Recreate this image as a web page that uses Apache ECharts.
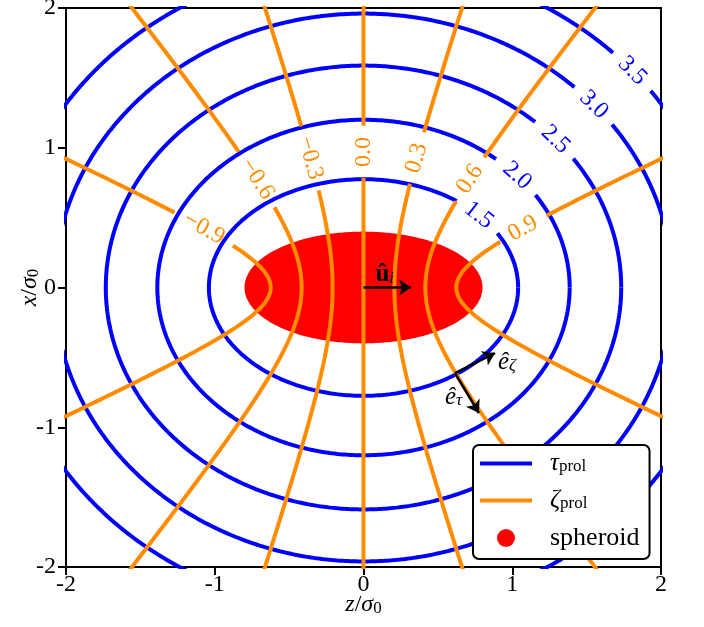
<!DOCTYPE html>
<html><head><meta charset="utf-8">
<script src="https://cdn.jsdelivr.net/npm/echarts@6/dist/echarts.min.js"></script>
<style>html,body{margin:0;padding:0;background:#fff}#c{width:704px;height:627px}</style>
</head><body><div id="c"></div>
<script>
// ---------------- data ----------------
const xTicks = [-2, -1, 0, 1, 2];
const yTicks = [-2, -1, 0, 1, 2];
const tauLevels = [1.5, 2.0, 2.5, 3.0, 3.5];
const zetaLevels = [-0.9, -0.6, -0.3, 0.0, 0.3, 0.6, 0.9];
const focalLength = 0.693;              // prolate focal distance (sigma0 units)
const spheroidSemiAxes = [0.8, 0.4];    // [along z, along x]
const tauLabelZeta = 0.745;             // zeta at which the tau labels sit
const zetaLabelTau = 1.72;              // tau at which the zeta labels sit
const arrowU = [[0, 0], [0.32, 0]];
const arrowEZeta = [[0.615, -0.612], [0.884, -0.469]];
const arrowETau = [[0.615, -0.612], [0.776, -0.898]];
const legendNames = ['tau', 'zeta', 'spheroid'];

// ---------------- setup ----------------
const FONT = '"Liberation Serif", "Times New Roman", serif';
const BLUE = '#0000ff', ORANGE = '#ff8c00', RED = '#ff0000';
const chart = echarts.init(document.getElementById('c'), null, {renderer: 'canvas'});

const nameRich = {
  i: {fontStyle: 'italic', fontSize: 24, lineHeight: 24, fontFamily: FONT, color: '#000'},
  n: {fontSize: 24, lineHeight: 24, fontFamily: FONT, color: '#000'},
  s: {fontSize: 17, lineHeight: 10, verticalAlign: 'bottom', fontFamily: FONT, color: '#000'}
};
const axisCommon = {
  type: 'value', interval: 1,
  splitLine: {show: false},
  axisLine: {show: true, onZero: false, lineStyle: {color: '#000', width: 2}},
  axisTick: {show: true, inside: false, length: 8, lineStyle: {color: '#000', width: 2}},
  nameLocation: 'middle', nameMoveOverlap: false,
  nameTextStyle: {fontFamily: FONT, fontSize: 24, color: '#000', rich: nameRich}
};
const LINE_ICON = 'path://M0,0L52,0L52,4L0,4Z';

chart.setOption({
  animation: false,
  backgroundColor: '#fff',
  grid: {left: 66, right: 43, top: 8, bottom: 60, containLabel: false, outerBoundsMode: 'none',
    show: true, borderColor: '#000', borderWidth: 2, backgroundColor: 'transparent'},
  xAxis: Object.assign({}, axisCommon, {
    min: xTicks[0], max: xTicks[xTicks.length - 1],
    name: '{i|z}{n|/}{i|σ}{s|0}', nameGap: 26,
    axisLabel: {fontFamily: FONT, fontSize: 24, color: '#000', margin: 6}
  }),
  yAxis: Object.assign({}, axisCommon, {
    min: yTicks[0], max: yTicks[yTicks.length - 1],
    name: '{i|x}{n|/}{i|σ}{s|0}', nameGap: 24,
    axisLabel: {fontFamily: FONT, fontSize: 24, color: '#000', margin: 10}
  }),
  legend: {
    show: true, selectedMode: false, orient: 'vertical', left: 473, top: 445,
    backgroundColor: '#fff', borderColor: '#000', borderWidth: 2, borderRadius: 6,
    padding: [6, 10, 8, 7], itemWidth: 52, itemHeight: 18, itemGap: 12, z: 20,
    data: [{name: legendNames[0], icon: LINE_ICON}, {name: legendNames[1], icon: LINE_ICON}, {name: legendNames[2], icon: 'circle'}],
    formatter: function (n) {
      return {tau: '{g| }{m|τ}{s|prol}', zeta: '{g| }{m|ζ}{s|prol}', spheroid: '{g| }{t|spheroid}'}[n];
    },
    textStyle: {color: '#000', fontFamily: FONT, fontSize: 25, rich: {
      g: {width: 13, fontSize: 25, lineHeight: 24},
      m: {fontStyle: 'italic', fontSize: 25, lineHeight: 24, fontFamily: FONT, color: '#000'},
      s: {fontSize: 17, lineHeight: 10, verticalAlign: 'bottom', fontFamily: FONT, color: '#000'},
      t: {fontSize: 26, lineHeight: 24, fontFamily: FONT, color: '#000'}
    }}
  },
  series: []
});

const toPx = p => chart.convertToPixel({gridIndex: 0}, p);
const a = focalLength;
const mctx = document.createElement('canvas').getContext('2d');
mctx.font = '24px ' + FONT;

function tauPoint(tau, th) { return [a * tau * Math.cos(th), a * Math.sqrt(tau * tau - 1) * Math.sin(th)]; }
function zetaPoint(zeta, u) { return [a * zeta * Math.cosh(u), a * Math.sqrt(1 - zeta * zeta) * Math.sinh(u)]; }

function angleAt(f, t) {
  const p1 = toPx(f(t - 1e-3)), p2 = toPx(f(t + 1e-3));
  let ang = Math.atan2(-(p2[1] - p1[1]), p2[0] - p1[0]);
  if (ang > Math.PI / 2 + 1e-9) ang -= Math.PI;
  if (ang <= -Math.PI / 2 + 1e-9) ang += Math.PI;
  return ang;
}

function segmentsWithGap(points, center, r) {
  const segs = []; let cur = [];
  for (const p of points) {
    const q = toPx(p);
    if (Math.hypot(q[0] - center[0], q[1] - center[1]) < r) {
      if (cur.length > 1) segs.push(cur);
      cur = [];
    } else cur.push(p);
  }
  if (cur.length > 1) segs.push(cur);
  return segs;
}

const series = [];
const graphics = [];

function lineSeries(name, data, color, z) {
  return {type: 'line', name: name, data: data, symbol: 'none', showSymbol: false, smooth: false,
    lineStyle: {color: color, width: 4}, itemStyle: {color: color}, z: z, silent: true, clip: true};
}

function addLabel(text, f, t, color) {
  const c = toPx(f(t));
  const ang = angleAt(f, t);
  const w = mctx.measureText(text).width;
  graphics.push({type: 'text', x: c[0], y: c[1], rotation: ang, z: 50, silent: true,
    style: {text: text, fill: color, fontSize: 24, fontFamily: FONT, align: 'center', verticalAlign: 'middle'}});
  return {c: c, r: w / 2 + 11};
}

// spheroid
const N = 360;
const spheroidPts = [];
for (let i = 0; i <= N; i++) {
  const th = 2 * Math.PI * i / N;
  spheroidPts.push([spheroidSemiAxes[0] * Math.cos(th), spheroidSemiAxes[1] * Math.sin(th)]);
}
series.push({type: 'custom', name: legendNames[2], coordinateSystem: 'cartesian2d', data: [[0, 0]], z: 1, silent: true,
  itemStyle: {color: RED},
  renderItem: function (params, api) {
    return {type: 'polygon', shape: {points: spheroidPts.map(p => api.coord(p))}, style: {fill: RED}};
  }
});

// tau ellipses
tauLevels.forEach(function (tau) {
  const f = th => tauPoint(tau, th);
  const pts = [];
  for (let i = 0; i <= 1440; i++) pts.push(f(2 * Math.PI * i / 1440));
  const lab = addLabel(tau.toFixed(1), f, Math.acos(tauLabelZeta), BLUE);
  segmentsWithGap(pts, lab.c, lab.r).forEach(s => series.push(lineSeries(legendNames[0], s, BLUE, 3)));
});

// zeta hyperbolae
zetaLevels.forEach(function (zeta) {
  const f = u => zetaPoint(zeta, u);
  const pts = [];
  for (let i = 0; i <= 1200; i++) pts.push(f(-3.2 + 6.4 * i / 1200));
  const txt = (zeta < 0 ? '\u2212' : '') + Math.abs(zeta).toFixed(1);
  const lab = addLabel(txt, f, Math.acosh(zetaLabelTau), ORANGE);
  segmentsWithGap(pts, lab.c, lab.r).forEach(s => series.push(lineSeries(legendNames[1], s, ORANGE, 4)));
});

// unit vector arrows
series.push({type: 'lines', coordinateSystem: 'cartesian2d', z: 6, silent: true,
  symbol: ['none', 'arrow'], symbolSize: [0, 12],
  lineStyle: {color: '#000', width: 2.5, opacity: 1, curveness: 0},
  data: [{coords: arrowU}, {coords: arrowEZeta}, {coords: arrowETau}]
});

// arrow annotations
const annRich = {
  b: {fontWeight: 'bold', fontSize: 25, lineHeight: 24, fontFamily: FONT, color: '#000'},
  e: {fontStyle: 'italic', fontSize: 25, lineHeight: 24, fontFamily: FONT, color: '#000'},
  s: {fontStyle: 'italic', fontSize: 17, lineHeight: 10, verticalAlign: 'bottom', fontFamily: FONT, color: '#000'}
};
[[ '{b|û}{s|i}', [0.08, 0.09]], ['{e|ê}{s|ζ}', [0.904, -0.533]], ['{e|ê}{s|τ}', [0.548, -0.784]]].forEach(function (d) {
  const p = toPx(d[1]);
  graphics.push({type: 'text', x: p[0], y: p[1], z: 60, silent: true,
    style: {text: d[0], rich: annRich, fill: '#000', fontSize: 24, fontFamily: FONT, align: 'left', verticalAlign: 'middle'}});
});

chart.setOption({series: series, graphic: {elements: graphics}});
</script></body></html>
